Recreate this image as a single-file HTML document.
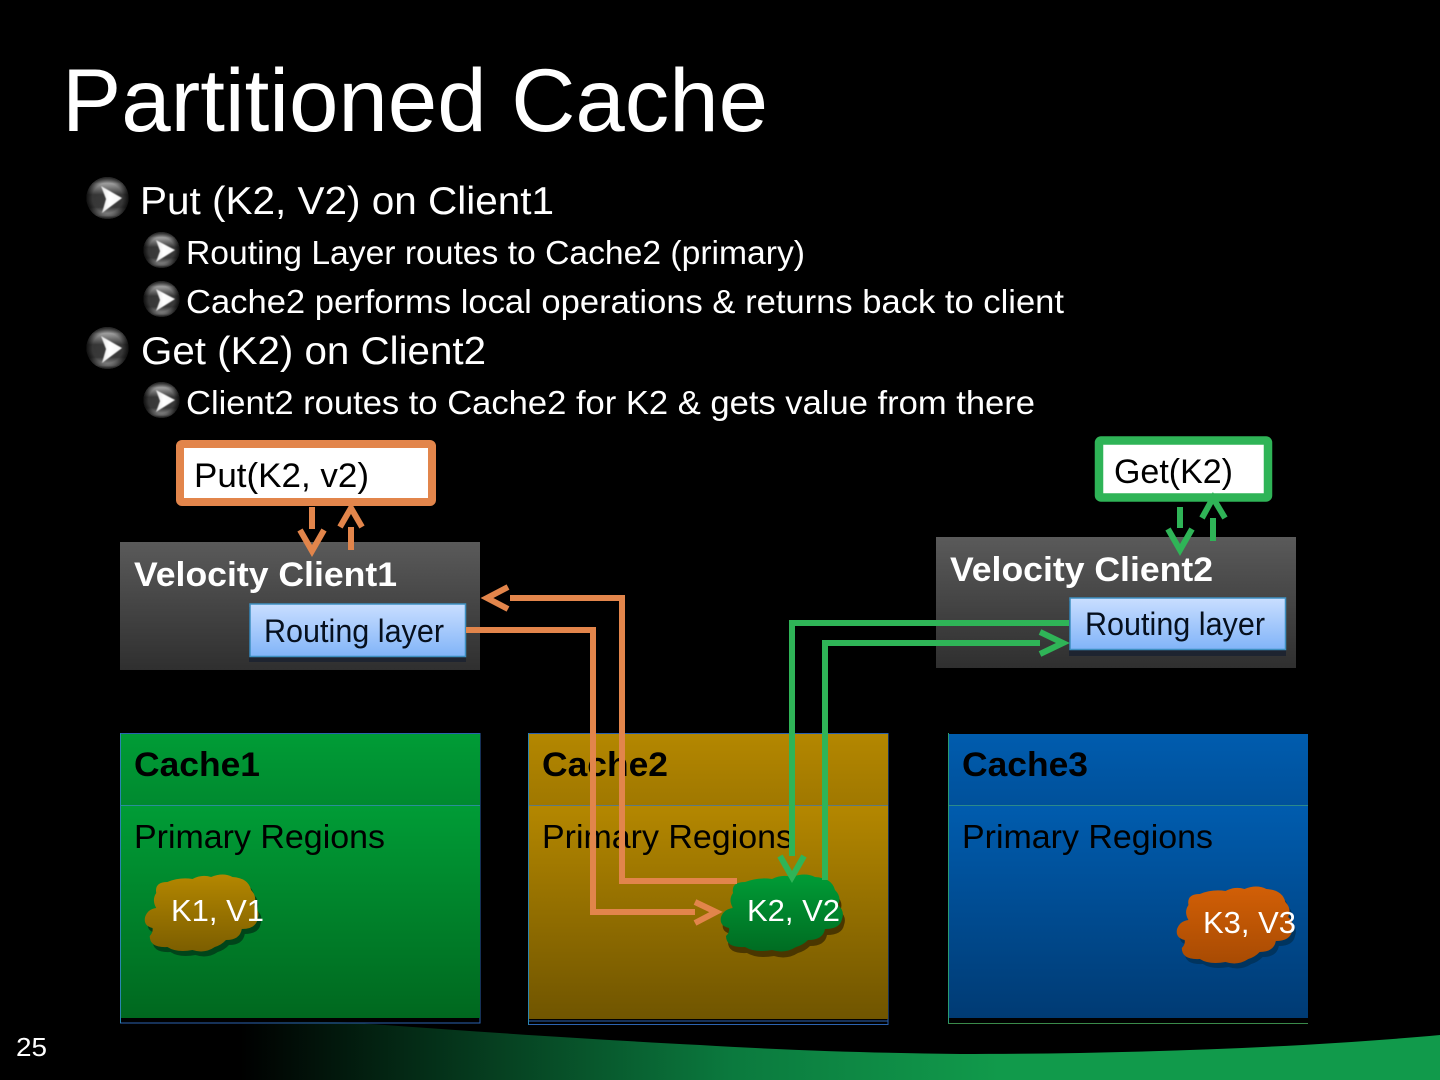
<!DOCTYPE html>
<html><head><meta charset="utf-8"><title>Partitioned Cache</title>
<style>
html,body{margin:0;padding:0;background:#000;width:1440px;height:1080px;overflow:hidden}
svg{display:block}
text{font-family:"Liberation Sans",sans-serif}
</style></head><body>
<svg width="1440" height="1080" viewBox="0 0 1440 1080" xmlns="http://www.w3.org/2000/svg">
<defs>
<linearGradient id="sw" gradientUnits="userSpaceOnUse" x1="240" y1="0" x2="1000" y2="0"><stop offset="0" stop-color="#000"/><stop offset=".65" stop-color="#0b7a3e"/><stop offset="1" stop-color="#119a4b"/></linearGradient>
<linearGradient id="cl" x1="0" y1="0" x2="0" y2="1"><stop offset="0" stop-color="#5a5a5a"/><stop offset="1" stop-color="#2f2f2f"/></linearGradient>
<linearGradient id="rt" x1="0" y1="0" x2="0" y2="1"><stop offset="0" stop-color="#c9deff"/><stop offset="1" stop-color="#81b4f8"/></linearGradient>
<linearGradient id="g1" x1="0" y1="0" x2="0" y2="1"><stop offset="0" stop-color="#009c36"/><stop offset="1" stop-color="#00681f"/></linearGradient>
<linearGradient id="g1t" x1="0" y1="0" x2="0" y2="1"><stop offset="0" stop-color="#009c36"/><stop offset="1" stop-color="#008a2f"/></linearGradient>
<linearGradient id="g2" x1="0" y1="0" x2="0" y2="1"><stop offset="0" stop-color="#b48700"/><stop offset="1" stop-color="#705500"/></linearGradient>
<linearGradient id="g2t" x1="0" y1="0" x2="0" y2="1"><stop offset="0" stop-color="#b48700"/><stop offset="1" stop-color="#a07800"/></linearGradient>
<linearGradient id="g3" x1="0" y1="0" x2="0" y2="1"><stop offset="0" stop-color="#005cae"/><stop offset="1" stop-color="#003b74"/></linearGradient>
<linearGradient id="g3t" x1="0" y1="0" x2="0" y2="1"><stop offset="0" stop-color="#005cae"/><stop offset="1" stop-color="#00519b"/></linearGradient>
<linearGradient id="cg" x1="0" y1="0" x2="0" y2="1"><stop offset="0" stop-color="#009c36"/><stop offset="1" stop-color="#006c22"/></linearGradient>
<linearGradient id="cb" x1="0" y1="0" x2="0" y2="1"><stop offset="0" stop-color="#b48700"/><stop offset="1" stop-color="#7c5e00"/></linearGradient>
<linearGradient id="co" x1="0" y1="0" x2="0" y2="1"><stop offset="0" stop-color="#d25f06"/><stop offset="1" stop-color="#a84b03"/></linearGradient>
<linearGradient id="sp" x1="0" y1="0" x2="0" y2="1"><stop offset="0" stop-color="#666"/><stop offset=".16" stop-color="#aaa"/><stop offset=".42" stop-color="#3a3a3a"/><stop offset=".72" stop-color="#3c3c3c"/><stop offset=".92" stop-color="#a0a0a0"/><stop offset="1" stop-color="#555"/></linearGradient>
<radialGradient id="rim" cx=".5" cy=".5" r=".5"><stop offset="0" stop-color="#000" stop-opacity="0"/><stop offset=".72" stop-color="#000" stop-opacity=".08"/><stop offset="1" stop-color="#000" stop-opacity=".72"/></radialGradient>
<linearGradient id="tri" x1="0" y1="0" x2="1" y2="0"><stop offset="0" stop-color="#e4e4e4"/><stop offset=".4" stop-color="#fff"/><stop offset="1" stop-color="#f4f4f4"/></linearGradient>
<filter id="sf" x="-20%" y="-20%" width="140%" height="140%"><feGaussianBlur stdDeviation=".4"/></filter>
<path id="cloud" d="M733 893Q731 882 745 882Q758 877 772 879Q782 874 792 877Q805 872 815 877Q832 878 835 890Q842 897 838 905Q845 911 842 919Q840 929 825 929Q823 940 808 940Q803 945 796 947Q785 954 772 950Q755 953 745 947Q726 948 726 936Q730 932 729 928Q719 926 721 917Q724 909 733 908Q728 900 733 893Z"/>
</defs>
<rect width="1440" height="1080" fill="#000"/>
<path d="M230 1022C300 1022 340 1021 370 1024C480 1032 600 1040 700 1045C800 1051 880 1053 960 1054C1120 1054 1300 1048 1440 1035V1080H230Z" fill="url(#sw)"/>

<text x="62" y="131" font-size="89" fill="#fff" textLength="706" lengthAdjust="spacingAndGlyphs">Partitioned Cache</text>

<g>
<circle cx="107.500" cy="198" r="21" fill="url(#sp)"/><circle cx="107.500" cy="198" r="21" fill="url(#rim)"/><path d="M101 186L122 198L102 213L106 199Z" fill="url(#tri)" filter="url(#sf)"/>
<circle cx="107.500" cy="348" r="21" fill="url(#sp)"/><circle cx="107.500" cy="348" r="21" fill="url(#rim)"/><path d="M101 336L122 348L102 363L106 349Z" fill="url(#tri)" filter="url(#sf)"/>
<circle cx="161.500" cy="250" r="18" fill="url(#sp)"/><circle cx="161.500" cy="250" r="18" fill="url(#rim)"/><path d="M156 240L175 250L156 262L160 251Z" fill="url(#tri)" filter="url(#sf)"/>
<circle cx="161.500" cy="299" r="18" fill="url(#sp)"/><circle cx="161.500" cy="299" r="18" fill="url(#rim)"/><path d="M156 289L175 299L156 311L160 300Z" fill="url(#tri)" filter="url(#sf)"/>
<circle cx="161.500" cy="400" r="18" fill="url(#sp)"/><circle cx="161.500" cy="400" r="18" fill="url(#rim)"/><path d="M156 390L175 400L156 412L160 401Z" fill="url(#tri)" filter="url(#sf)"/>
</g>
<g fill="#fff">
<text x="140" y="214" font-size="39" textLength="414" lengthAdjust="spacingAndGlyphs">Put (K2, V2) on Client1</text>
<text x="186" y="264" font-size="33" textLength="619" lengthAdjust="spacingAndGlyphs">Routing Layer routes to Cache2 (primary)</text>
<text x="186" y="313" font-size="33" textLength="878" lengthAdjust="spacingAndGlyphs">Cache2 performs local operations &amp; returns back to client</text>
<text x="141" y="364" font-size="39" textLength="345" lengthAdjust="spacingAndGlyphs">Get (K2) on Client2</text>
<text x="186" y="414" font-size="33" textLength="849" lengthAdjust="spacingAndGlyphs">Client2 routes to Cache2 for K2 &amp; gets value from there</text>
</g>

<!-- client boxes -->
<rect x="120" y="542" width="360" height="128" fill="url(#cl)"/>
<rect x="936" y="537" width="360" height="131" fill="url(#cl)"/>
<text x="134" y="586" font-size="34" font-weight="bold" fill="#fff" textLength="263" lengthAdjust="spacingAndGlyphs">Velocity Client1</text>
<text x="950" y="581" font-size="34" font-weight="bold" fill="#fff" textLength="263" lengthAdjust="spacingAndGlyphs">Velocity Client2</text>
<rect x="249" y="607" width="217" height="55" fill="#1e2430"/>
<rect x="1069" y="601" width="217" height="55" fill="#1e2430"/>
<rect x="250" y="604" width="215.500" height="52.500" fill="url(#rt)" stroke="#3d8fc0" stroke-width="1.500"/>
<rect x="1070" y="598" width="215.500" height="51.500" fill="url(#rt)" stroke="#3d8fc0" stroke-width="1.500"/>
<text x="264" y="642" font-size="32" fill="#06101e" textLength="180" lengthAdjust="spacingAndGlyphs">Routing layer</text>
<text x="1085" y="635" font-size="32" fill="#06101e" textLength="180" lengthAdjust="spacingAndGlyphs">Routing layer</text>

<!-- request boxes -->
<rect x="180" y="444" width="252" height="58" rx="2" fill="#fff" stroke="#e2854b" stroke-width="8"/>
<rect x="1099" y="440.500" width="169" height="57" rx="2" fill="#fff" stroke="#2fb457" stroke-width="8.500"/>
<text x="194" y="487" font-size="34" fill="#000" textLength="175" lengthAdjust="spacingAndGlyphs">Put(K2, v2)</text>
<text x="1114" y="483" font-size="34" fill="#000" textLength="119" lengthAdjust="spacingAndGlyphs">Get(K2)</text>

<!-- caches -->
<rect x="120.500" y="733.500" width="359.500" height="289.500" fill="none" stroke="#2b62b0" stroke-width="1"/>
<rect x="528.500" y="733.500" width="359.500" height="291" fill="none" stroke="#2b62b0" stroke-width="1"/>
<line x1="529" y1="1021" x2="888" y2="1021" stroke="#2b62b0"/>
<rect x="121" y="734" width="359" height="71" fill="url(#g1t)"/><rect x="121" y="806" width="359" height="212" fill="url(#g1)"/>
<rect x="529" y="734" width="359" height="71" fill="url(#g2t)"/><rect x="529" y="806" width="359" height="213" fill="url(#g2)"/>
<rect x="949" y="734" width="359" height="71" fill="url(#g3t)"/><rect x="949" y="806" width="359" height="212" fill="url(#g3)"/>
<line x1="121" y1="805.500" x2="480" y2="805.500" stroke="#2a8f9a"/>
<line x1="529" y1="805.500" x2="888" y2="805.500" stroke="#5f7a80"/>
<line x1="949" y1="805.500" x2="1308" y2="805.500" stroke="#2c8a8a"/>
<line x1="120.500" y1="733" x2="120.500" y2="1023" stroke="#2a85b0"/>
<line x1="528.500" y1="733" x2="528.500" y2="1025" stroke="#2a85b0"/>
<line x1="948.500" y1="733" x2="948.500" y2="1023" stroke="#2a9a70"/>
<line x1="948" y1="1023.500" x2="1308" y2="1023.500" stroke="#3a8a4a"/>
<g fill="#000">
<text x="134" y="776" font-size="34" font-weight="bold" textLength="126" lengthAdjust="spacingAndGlyphs">Cache1</text>
<text x="542" y="776" font-size="34" font-weight="bold" textLength="126" lengthAdjust="spacingAndGlyphs">Cache2</text>
<text x="962" y="776" font-size="34" font-weight="bold" textLength="126" lengthAdjust="spacingAndGlyphs">Cache3</text>
<text x="134" y="848" font-size="33" textLength="251" lengthAdjust="spacingAndGlyphs">Primary Regions</text>
<text x="542" y="848" font-size="33" textLength="251" lengthAdjust="spacingAndGlyphs">Primary Regions</text>
<text x="962" y="848" font-size="33" textLength="251" lengthAdjust="spacingAndGlyphs">Primary Regions</text>
</g>

<!-- clouds -->
<use href="#cloud" transform="translate(149,882) scale(.93,1) translate(-722,-877)" fill="#00451a"/>
<use href="#cloud" transform="translate(146,877) scale(.93,1) translate(-722,-877)" fill="url(#cb)"/>
<use href="#cloud" transform="translate(2,6)" fill="#4a3600"/>
<use href="#cloud" fill="url(#cg)"/>
<use href="#cloud" transform="translate(1181,894) scale(.95,1) translate(-722,-877)" fill="#00345f"/>
<use href="#cloud" transform="translate(1178,889) scale(.95,1) translate(-722,-877)" fill="url(#co)"/>

<!-- connectors -->
<g fill="none" stroke="#e2854b" stroke-width="6">
<path d="M312 507V529"/><path d="M300 530L312 551L324 530"/>
<path d="M351 527V550"/><path d="M340 527L351 508L362 527"/>
<path d="M466 630H593V912H695"/><path d="M695 902L716 912L695 923"/>
<path d="M737 881H622V598H510"/><path d="M508 587L487 598L508 609"/>
</g>
<g fill="none" stroke="#2fb457" stroke-width="6">
<path d="M1180 507V528"/><path d="M1168 529L1180 550L1192 529"/>
<path d="M1213 518V541"/><path d="M1202 518L1213 498L1225 518"/>
<path d="M1069 623H792V856"/><path d="M780 856L792 877L804 856"/>
<path d="M825 880V643H1040"/><path d="M1040 632L1063 643L1040 654"/>
</g>

<g fill="#fff">
<text x="171" y="921" font-size="31" textLength="93" lengthAdjust="spacingAndGlyphs">K1, V1</text>
<text x="747" y="921" font-size="31" textLength="93" lengthAdjust="spacingAndGlyphs">K2, V2</text>
<text x="1203" y="933" font-size="31" textLength="93" lengthAdjust="spacingAndGlyphs">K3, V3</text>
<text x="16" y="1056" font-size="26" textLength="31" lengthAdjust="spacingAndGlyphs">25</text>
</g>
</svg>
</body></html>
